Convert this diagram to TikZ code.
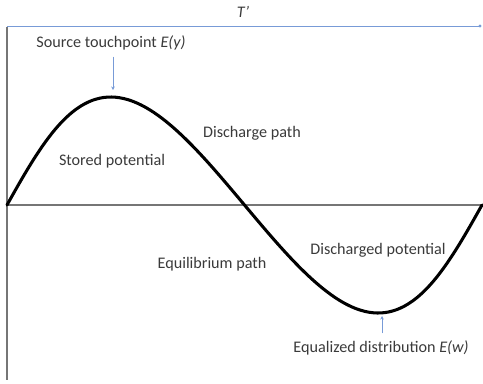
\documentclass[tikz,border=0pt]{standalone}
\usepackage{fontspec}
\setmainfont{Carlito}
\usepackage{xcolor}
\definecolor{axisgray}{RGB}{118, 118, 118}
\definecolor{textgray}{RGB}{58, 58, 58}
\definecolor{pointer}{RGB}{120, 155, 215}
\usetikzlibrary{arrows.meta, positioning, calc}

\begin{document}
\begin{tikzpicture}[
  x = 0.03cm, y = -0.03cm,
  every node/.style = {font=\fontsize{13.8}{16}\selectfont, text=textgray, inner sep=1pt},
  % line styles
  axis/.style  = {draw=axisgray, line width=1.5pt},
  wave/.style  = {draw=black, line width=2.6pt, line cap=round},
  ptr/.style   = {-{Stealth[length=3pt, width=3pt]}, draw=pointer, line width=0.5pt},
  span/.style  = {draw=pointer, line width=0.6pt},
]
\useasboundingbox (0,0) rectangle (483,383);

%% Axes
\coordinate (top)    at (7,27);
\coordinate (bottom) at (7,380);
\coordinate (origin) at (7,205);
\coordinate (xend)   at (483,205);
\draw[axis] (top) -- (bottom);
\draw[axis] (origin) -- (xend);

%% Period marker along the top
\coordinate (spanend) at (480,26);
\draw[span] (7,26) -- (spanend);
\fill[pointer] (spanend) circle (1.6);
\node (period) at (243,12) {\textit{T'}};

%% Wave (skewed sine)
\draw[wave] plot[domain=0:360, samples=120, smooth]
  ({7 + 1.3194*\x - 15*sin(\x)}, {205 - 108*sin(\x)});

\coordinate (peak)   at (113,90);
\coordinate (trough) at (382,316);

%% Labels
\node (src)   at (111,43)  {Source touchpoint \textit{E(y)}};
\node (store) at (112,161) {Stored potential};
\node (dpath) at (252,133) {Discharge path};
\node (epath) at (212,264) {Equilibrium path};
\node (dpot)  at (378,250) {Discharged potential};
\node (eqd)   at (381,348) {Equalized distribution \textit{E(w)}};

%% Pointers to the extremes
\draw[ptr] (src.south -| peak) ++(0,5) -- (peak);
\draw[ptr] (eqd.north -| trough) ++(0,-6) -- (trough);

\end{tikzpicture}
\end{document}
